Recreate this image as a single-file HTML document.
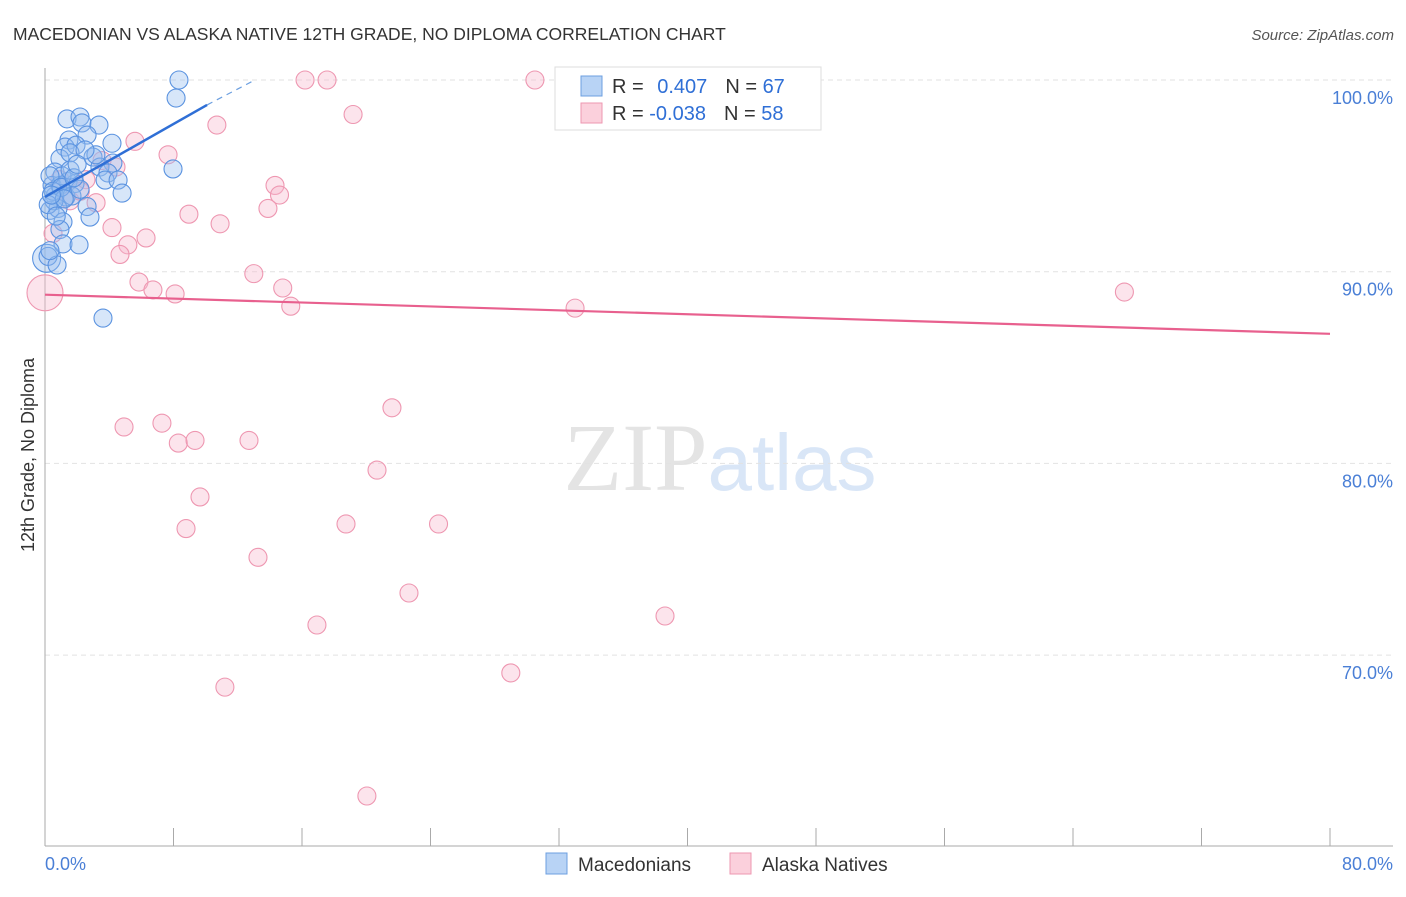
<!DOCTYPE html>
<html><head><meta charset="utf-8"><style>
body{margin:0;background:#fff;font-family:"Liberation Sans",sans-serif}
</style></head><body>
<svg id="chart" width="1406" height="892" xmlns="http://www.w3.org/2000/svg" font-family="Liberation Sans, sans-serif">
<text x="13" y="40" font-size="17.5" fill="#333">MACEDONIAN VS ALASKA NATIVE 12TH GRADE, NO DIPLOMA CORRELATION CHART</text>
<text x="1394" y="40" font-size="15" fill="#555" text-anchor="end" font-style="italic">Source: ZipAtlas.com</text>
<text x="720" y="490" font-size="96" text-anchor="middle" fill="#e4e4e4" font-family="Liberation Serif, serif">ZIP<tspan fill="#d9e6f7" font-family="Liberation Sans, sans-serif" font-size="80">atlas</tspan></text>
<g id="grid"></g>
<g id="axes"></g>
<g id="marks"></g>
<text transform="translate(34,455) rotate(-90)" font-size="18" fill="#333" text-anchor="middle">12th Grade, No Diploma</text>
<g>
<rect x="555" y="67" width="266" height="63" fill="#fff" stroke="#ddd"/>
<rect x="581" y="76" width="21" height="20" fill="#b8d3f5" stroke="#6c9fe0"/>
<rect x="581" y="103" width="21" height="20" fill="#fbd0dc" stroke="#ee97b1"/>
<text x="612" y="93" font-size="20" fill="#333">R = <tspan fill="#2f6fd6" dx="8">0.407</tspan><tspan dx="18" fill="#333">N = </tspan><tspan fill="#2f6fd6">67</tspan></text>
<text x="612" y="120" font-size="20" fill="#333">R = <tspan fill="#2f6fd6" dx="0">-0.038</tspan><tspan dx="18" fill="#333">N = </tspan><tspan fill="#2f6fd6">58</tspan></text>
</g>
<g>
<rect x="546" y="853" width="21" height="21" fill="#b8d3f5" stroke="#6c9fe0"/>
<text x="578" y="871" font-size="19" fill="#333">Macedonians</text>
<rect x="730" y="853" width="21" height="21" fill="#fbd0dc" stroke="#ee97b1"/>
<text x="762" y="871" font-size="19" fill="#333">Alaska Natives</text>
</g>
</svg>
<script>
const blueX=[8.34,8.16,7.97,3.61,1.37,2.18,2.3,3.36,2.62,1.49,1.25,1.93,4.17,0.93,1.56,2.99,4.23,3.42,3.92,3.74,4.55,4.8,0.62,0.44,0.93,1.43,1.87,0.62,1.31,1.68,0.31,0.81,2.62,2.8,1.12,0.93,1.12,2.12,0.19,0.75,0.31,2.18,1.06,3.17,1.56,0.31,0.56,2.49,0.5,1.0,1.8,0.2,0.7,1.2,2.0,0.4];
const blueY=[100,99.06,95.36,87.58,97.97,98.07,97.76,97.65,97.13,96.87,96.5,96.6,96.7,95.9,96.2,95.98,95.67,95.46,95.15,94.78,94.78,94.1,95.2,94.5,94.5,94.7,94.6,93.95,93.9,93.95,93.2,93.3,93.4,92.85,92.6,92.2,91.45,91.4,90.8,90.35,91.1,94.3,95.0,96.1,95.3,95.0,93.7,96.35,94.2,94.4,94.9,93.5,92.9,93.8,95.6,94.0];
const pinkX=[16.19,17.56,30.5,41.5,44.5,19.18,10.7,5.6,7.66,3.55,4.42,2.55,14.32,14.6,3.18,13.88,8.96,10.9,4.17,6.29,5.16,4.67,13.0,5.85,6.72,8.1,14.8,15.3,33.0,67.2,21.6,4.92,7.28,8.3,9.34,12.7,20.67,9.65,8.78,18.74,24.5,13.26,22.66,38.6,16.93,29.0,11.2,20.04,1.56,0.93,0.5,2.2];
const pinkY=[100,100,100,100,100,98.2,97.65,96.8,96.1,95.8,95.46,94.8,94.5,94.0,93.6,93.3,93.0,92.5,92.3,91.76,91.4,90.9,89.9,89.46,89.05,88.84,89.15,88.2,88.1,88.94,82.9,81.9,82.1,81.06,81.2,81.2,79.65,78.25,76.6,76.84,76.84,75.1,73.24,72.04,71.57,69.07,68.33,62.65,93.7,94.8,92.0,94.2];
const bigX=[0.0,0.1], bigY=[88.9,90.7], bigC=['pink','blue'];
const yTicks=[100,90,80,70];
const yTickLabels=['100.0%','90.0%','80.0%','70.0%'];
const blueTrend=[[0,93.9],[10.09,98.7],[13.07,100]];
const pinkTrend=[[0,88.8],[80,86.76]];
const NS='http://www.w3.org/2000/svg';
const X=v=>45+v/80*1285, Y=v=>80+(100-v)*19.17;
function mk(t,a,p){const e=document.createElementNS(NS,t);for(const k in a)e.setAttribute(k,a[k]);p.appendChild(e);return e;}
const grid=document.getElementById('grid'),axes=document.getElementById('axes'),marks=document.getElementById('marks');
yTicks.forEach((t,i)=>{
 const l=mk('line',{x1:45,x2:1393,y1:Y(t),y2:Y(t),stroke:'#e2e2e2','stroke-dasharray':'5,4'},grid);
 
 
 const tx=mk('text',{x:1393,y:Y(t)+24,'font-size':18,fill:'#4a7fd6','text-anchor':'end'},axes);
 tx.textContent=yTickLabels[i];
 
 
});
const ax=mk('line',{x1:45,x2:45,y1:68,y2:846,stroke:'#aaa'},axes);


const bx=mk('line',{x1:45,x2:1393,y1:846,y2:846,stroke:'#aaa'},axes);


for(let i=1;i<=10;i++){const t=mk('line',{x1:X(i*8),x2:X(i*8),y1:828,y2:846,stroke:'#aaa'},axes);
 
 }
[['0.0%',45,'start'],['80.0%',1393,'end']].forEach(a=>{const t=mk('text',{x:a[1],y:870,'font-size':18,fill:'#4a7fd6','text-anchor':a[2]},axes);t.textContent=a[0];
 
 });
function dot(x,y,c,r){const e=mk('circle',{cx:X(x),cy:Y(y),r:r,fill:c=='blue'?'rgba(150,190,240,0.38)':'rgba(248,185,205,0.38)',stroke:c=='blue'?'#5b93e0':'#ee97b1','stroke-width':1.1},marks);
 
 }
bigX.forEach((x,i)=>dot(x,bigY[i],bigC[i],i==0?18:14));
pinkX.forEach((x,i)=>dot(x,pinkY[i],'pink',9));
blueX.forEach((x,i)=>dot(x,blueY[i],'blue',9));
const pl=mk('line',{x1:X(pinkTrend[0][0]),y1:Y(pinkTrend[0][1]),x2:X(pinkTrend[1][0]),y2:Y(pinkTrend[1][1]),stroke:'#e8608e','stroke-width':2.2},marks);


const bl=mk('line',{x1:X(blueTrend[0][0]),y1:Y(blueTrend[0][1]),x2:X(blueTrend[1][0]),y2:Y(blueTrend[1][1]),stroke:'#2f6fd6','stroke-width':2.5},marks);


const bd=mk('line',{x1:X(blueTrend[1][0]),y1:Y(blueTrend[1][1]),x2:X(blueTrend[2][0]),y2:Y(blueTrend[2][1]),stroke:'#6c9fe0','stroke-width':1.2,'stroke-dasharray':'6,5'},marks);


</script>
</body></html>
